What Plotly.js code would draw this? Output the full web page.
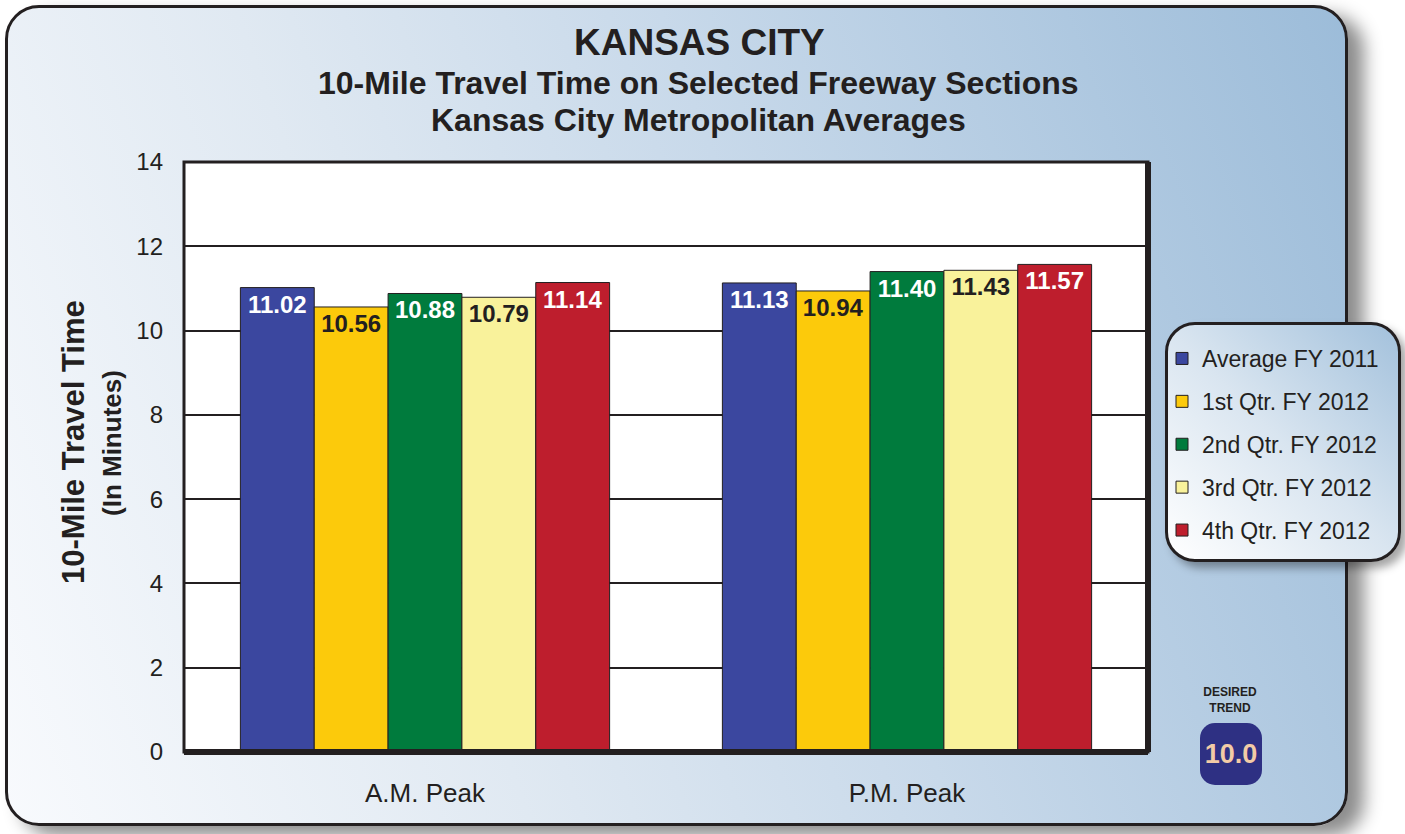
<!DOCTYPE html>
<html>
<head>
<meta charset="utf-8">
<script src="https://cdn.plot.ly/plotly-3.0.1.min.js"></script>
<style>
  html, body { margin: 0; padding: 0; background: #ffffff; }
  body { width: 1405px; height: 834px; position: relative; overflow: hidden; font-family: Arial, "Liberation Sans", sans-serif; }
  /* rounded panel behind the transparent plot */
  #frame {
    position: absolute; left: 5px; top: 5px; width: 1343px; height: 821px;
    box-sizing: border-box; border: 3px solid #231f20; border-radius: 34px;
    background: linear-gradient(70deg, #f8fafd 0%, #e0e9f2 32%, #c8d9ea 58%, #9cbcd9 100%);
    box-shadow: 16px 10px 18px rgba(0,0,0,0.45);
  }
  #legend-box {
    position: absolute; left: 1165px; top: 322px; width: 236px; height: 240px;
    box-sizing: border-box; border: 3px solid #231f20; border-radius: 30px;
    background: linear-gradient(45deg, #ffffff 0%, #d9e5f0 50%, #a3c1dc 100%);
    box-shadow: 6px 6px 8px rgba(0,0,0,0.35);
  }
  #trend-label {
    position: absolute; left: 1190px; top: 684px; width: 80px; text-align: center;
    font-weight: bold; font-size: 12px; line-height: 16px; color: #231f20;
  }
  #trend-badge {
    position: absolute; left: 1200px; top: 723px; width: 62px; height: 62px;
    border-radius: 15px; background: #2e3083; color: #f2cba6;
    font-weight: bold; font-size: 27px; line-height: 62px; text-align: center;
  }
  #chart { position: absolute; left: 0; top: 0; width: 1405px; height: 834px; }
</style>
</head>
<body>
<div id="frame"></div>
<div id="legend-box"></div>
<div id="trend-label">DESIRED<br>TREND</div>
<div id="trend-badge">10.0</div>
<div id="chart"></div>
<script>
// Values (minutes)
const categories = ['A.M. Peak', 'P.M. Peak'];
const seriesNames = ['Average FY 2011', '1st Qtr. FY 2012', '2nd Qtr. FY 2012', '3rd Qtr. FY 2012', '4th Qtr. FY 2012'];
const avgFY2011 = [11.02, 11.13];
const q1FY2012 = [10.56, 10.94];
const q2FY2012 = [10.88, 11.40];
const q3FY2012 = [10.79, 11.43];
const q4FY2012 = [11.14, 11.57];
const yTicks = [0, 2, 4, 6, 8, 10, 12, 14];

const seriesValues = [avgFY2011, q1FY2012, q2FY2012, q3FY2012, q4FY2012];
const barColors = ['#3b479f', '#fcca0b', '#007b3d', '#f9f29b', '#be1e2d'];
const labelColors = ['#ffffff', '#231f20', '#ffffff', '#231f20', '#ffffff'];

const INK = '#231f20';
const FONT = 'Arial, "Liberation Sans", sans-serif';

const traces = seriesValues.map((vals, i) => ({
  type: 'bar',
  name: seriesNames[i],
  x: categories,
  y: vals,
  legendgroup: 'g' + i,
  marker: { color: barColors[i], line: { color: INK, width: 1 } },
  texttemplate: '%{y:.2f}',
  textposition: 'inside',
  insidetextanchor: 'end',
  textangle: 0,
  textfont: { family: FONT, size: 24, weight: 'bold', color: labelColors[i] },
  hoverinfo: 'skip',
}));

// pixel -> paper helpers for the plot box (left 184, right 1148, top 162, bottom 752)
const PL = 184, PR = 1148, PT = 162, PB = 752;
const px = (x) => (x - PL) / (PR - PL);
const py = (y) => (PB - y) / (PB - PT);

function label(text, x, y, size, angle) {
  return {
    text, xref: 'paper', yref: 'paper', x: px(x), y: py(y),
    xanchor: 'center', yanchor: 'middle', textangle: angle || 0,
    showarrow: false, font: { family: FONT, size, color: INK },
  };
}

const layout = {
  width: 1405,
  height: 834,
  margin: { l: PL, r: 1405 - PR, t: PT, b: 834 - PB, pad: 0 },
  paper_bgcolor: 'rgba(0,0,0,0)',
  plot_bgcolor: '#ffffff',
  font: { family: FONT, color: INK },
  barmode: 'group',
  bargap: 0.234,
  bargroupgap: 0,
  showlegend: true,
  legend: {
    x: px(1162), xanchor: 'left',
    y: py(337), yanchor: 'top',
    bgcolor: 'rgba(0,0,0,0)',
    borderwidth: 0,
    font: { family: FONT, size: 23, color: INK },
    traceorder: 'grouped',
    tracegroupgap: 10,
  },
  xaxis: {
    type: 'category',
    showgrid: false,
    showline: false,
    zeroline: false,
    ticks: '',
    ticklabelstandoff: 23,
    tickfont: { family: FONT, size: 26, color: INK },
  },
  yaxis: {
    range: [0, 14],
    tickvals: yTicks,
    showgrid: true,
    gridcolor: INK,
    gridwidth: 2,
    zeroline: false,
    showline: false,
    ticks: '',
    ticklabelstandoff: 20,
    tickfont: { family: FONT, size: 24, color: INK },
  },
  shapes: [
    // plot frame
    { type: 'rect', xref: 'paper', yref: 'paper', x0: 0, x1: 1, y0: 0, y1: 1,
      line: { color: INK, width: 3 }, layer: 'above' },
    // heavier right edge
    { type: 'line', xref: 'paper', yref: 'paper', x0: 1, x1: 1, y0: 0, y1: 1,
      line: { color: INK, width: 6 }, layer: 'above' },
    // heavy baseline
    { type: 'line', xref: 'paper', yref: 'paper', x0: 0, x1: 1, y0: 0, y1: 0,
      line: { color: INK, width: 6 }, layer: 'above' },
  ],
  annotations: [
    label('<b>KANSAS CITY</b>', 699, 43, 37),
    label('<b>10-Mile Travel Time on Selected Freeway Sections</b>', 698, 83, 32),
    label('<b>Kansas City Metropolitan Averages</b>', 698, 120, 32),
    label('<b>10-Mile Travel Time</b>', 73, 442, 31, -90),
    label('<b>(In Minutes)</b>', 112, 443, 26, -90),
  ],
};

Plotly.newPlot('chart', traces, layout, { displayModeBar: false, staticPlot: true });
</script>
</body>
</html>
